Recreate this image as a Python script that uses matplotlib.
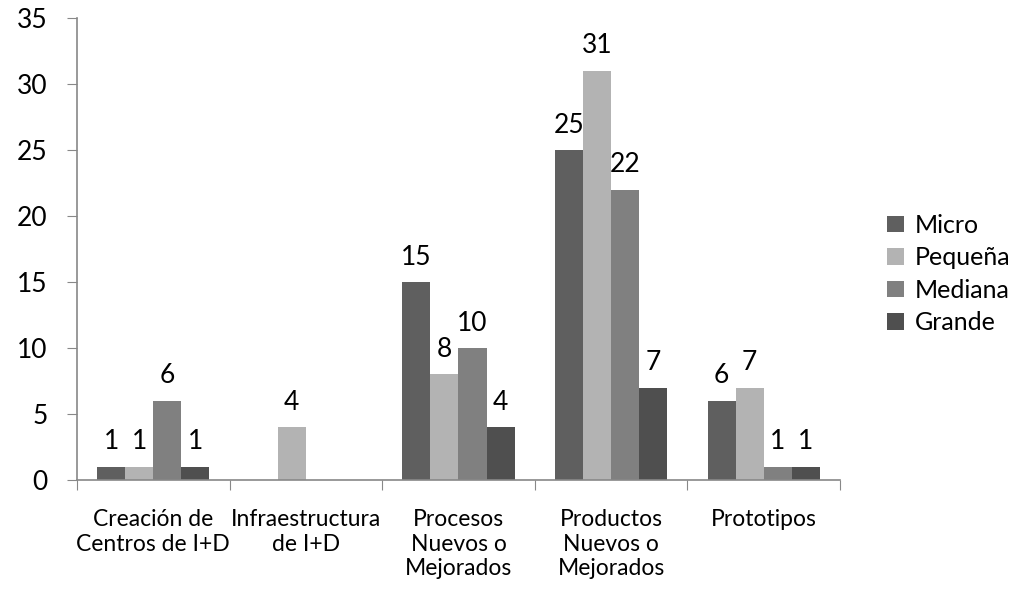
import numpy as np
import matplotlib.pyplot as plt

plt.rcParams['font.family'] = ['Lato', 'DejaVu Sans']

categorias = ["Creación de\nCentros de I+D", "Infraestructura\nde I+D",
              "Procesos\nNuevos o\nMejorados", "Productos\nNuevos o\nMejorados",
              "Prototipos"]
series = ["Micro", "Pequeña", "Mediana", "Grande"]
micro = [1, 0, 15, 25, 6]
pequena = [1, 4, 8, 31, 7]
mediana = [6, 0, 10, 22, 1]
grande = [1, 0, 4, 7, 1]
valores = [micro, pequena, mediana, grande]
colores = ["#5f5f5f", "#b3b3b3", "#808080", "#4f4f4f"]

fig = plt.figure(figsize=(10.21, 5.89), dpi=100)
ax = fig.add_axes([0.0754, 0.185, 0.7473, 0.7844])

x = np.arange(len(categorias))
ancho = 0.735 / len(series)
for i, (nombre, vals, col) in enumerate(zip(series, valores, colores)):
    pos = x - 0.735 / 2 + ancho * (i + 0.5)
    barras = ax.bar(pos, vals, width=ancho, color=col, label=nombre)
    for b, v in zip(barras, vals):
        if v > 0:
            ax.annotate(str(v), (b.get_x() + b.get_width() / 2, v),
                        xytext=(0, 9), textcoords="offset points",
                        ha="center", va="bottom", fontsize=19)

ax.set_xlim(-0.5, len(categorias) - 0.5)
ax.set_ylim(0, 35)
ax.set_yticks(range(0, 36, 5))
ax.set_xticks(np.arange(-0.5, len(categorias), 1))
ax.set_xticklabels([])
ax.set_xticks(x, minor=True)
ax.set_xticklabels(categorias, minor=True, fontsize=16.5, linespacing=1.2)
ax.tick_params(axis="x", which="minor", length=0, pad=21)
ax.tick_params(axis="x", which="major", length=7, color="#888888", direction="out")
ax.tick_params(axis="y", length=7, color="#888888", labelsize=19, pad=14)

for lado in ["top", "right"]:
    ax.spines[lado].set_visible(False)
for lado in ["left", "bottom"]:
    ax.spines[lado].set_color("#888888")
    ax.spines[lado].set_linewidth(1.2)

ax.legend(loc="center left", bbox_to_anchor=(1.062, 0.446), frameon=False,
          fontsize=18, handlelength=0.65, handleheight=0.65, handletextpad=0.45,
          labelspacing=0.38, borderaxespad=0, borderpad=0)

fig.savefig("out.png", dpi=100)
